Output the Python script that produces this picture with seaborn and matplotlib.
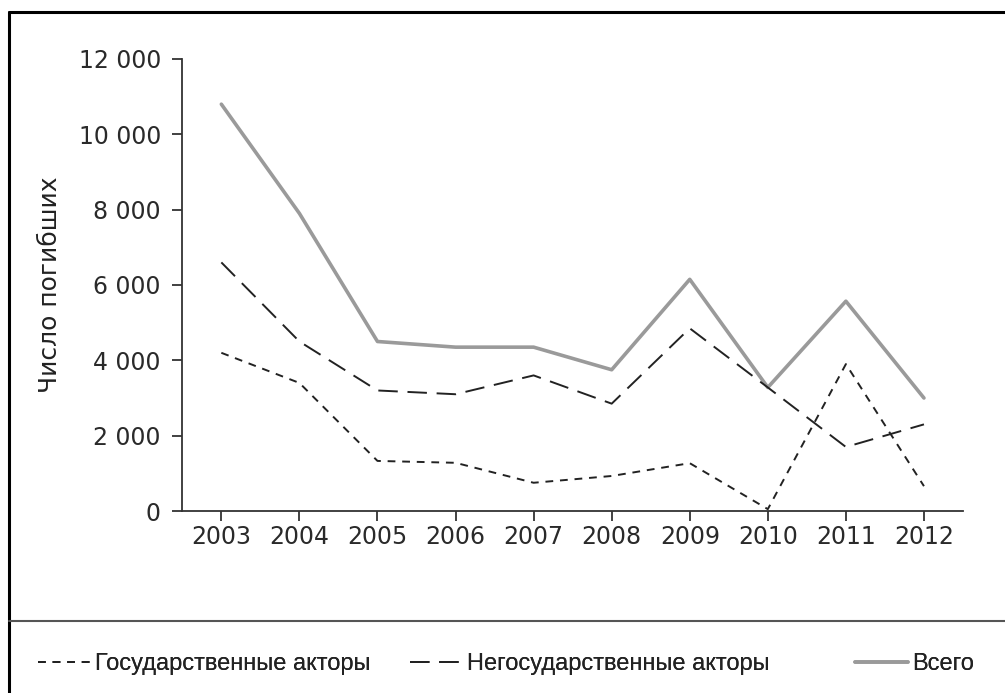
import matplotlib
matplotlib.use("Agg")
import matplotlib.pyplot as plt
import matplotlib.ticker as mticker
from matplotlib.lines import Line2D
import seaborn as sns
import pandas as pd

years = [2003, 2004, 2005, 2006, 2007, 2008, 2009, 2010, 2011, 2012]
state = [4200, 3400, 1330, 1280, 750, 930, 1270, 50, 3900, 660]
nonstate = [6600, 4500, 3200, 3100, 3600, 2850, 4850, 3280, 1700, 2300]
total = [10800, 7900, 4500, 4350, 4350, 3750, 6150, 3280, 5570, 3000]
labels = ["Государственные акторы", "Негосударственные акторы", "Всего"]
ylabel = "Число погибших"

sns.set_theme(style="white")
plt.rcParams['font.family'] = ['DejaVu Sans']

fig = plt.figure(figsize=(10.05, 6.93), dpi=100)
ax = fig.add_axes([0.1814, 0.2626, 0.9582 - 0.1814, 0.9149 - 0.2626])

df = pd.DataFrame({"year": years, "state": state, "nonstate": nonstate, "total": total})

dark = "#222222"
sns.lineplot(data=df, x="year", y="total", ax=ax, color="#9a9a9a", lw=2.6,
             linestyle="-", label=labels[2])
sns.lineplot(data=df, x="year", y="nonstate", ax=ax, color=dark, lw=1.4,
             linestyle=(0, (10, 5)), label=labels[1])
sns.lineplot(data=df, x="year", y="state", ax=ax, color=dark, lw=1.4,
             linestyle=(0, (4, 3.5)), label=labels[0])
ax.get_legend().remove()

ax.set_xlim(2002.5, 2012.5)
ax.set_ylim(0, 12000)
ax.set_xticks(years)
ax.set_xticklabels([str(y) for y in years])
ax.set_yticks(range(0, 12001, 2000))
ax.yaxis.set_major_formatter(mticker.FuncFormatter(lambda v, p: f"{int(v):,}".replace(",", " ")))
ax.set_xlabel("")
ax.set_ylabel(ylabel, fontsize=18, color="#222222", labelpad=12)

for s in ["top", "right"]:
    ax.spines[s].set_visible(False)
for s in ["left", "bottom"]:
    ax.spines[s].set_color("#333333")
    ax.spines[s].set_linewidth(1.3)
ax.tick_params(axis="both", which="both", direction="out", length=7.4, width=1.3,
               color="#333333", labelsize=17, labelcolor="#2a2a2a",
               left=True, bottom=True)
ax.tick_params(axis="y", pad=8)
ax.tick_params(axis="x", pad=3)

# frame and separator
fig.add_artist(Line2D([9/1005, 9/1005], [0, 1 - 12/693], color="black", lw=2.2))
fig.add_artist(Line2D([9/1005, 1], [1 - 12/693, 1 - 12/693], color="black", lw=2.2))
fig.add_artist(Line2D([9/1005, 1], [1 - 621/693, 1 - 621/693], color="#555555", lw=1.5))

# legend (three separate entries)
handles = {lab: ln for ln, lab in zip(ax.lines, [labels[2], labels[1], labels[0]])}
legfont = {"family": ["Liberation Sans Narrow", "Liberation Sans", "DejaVu Sans"], "size": 17}
positions = [(labels[0], 38/1005), (labels[1], 410/1005), (labels[2], 855/1005)]
for lab, xpos in positions:
    h = handles[lab]
    lg = fig.legend([h], [lab], loc="center left", bbox_to_anchor=(xpos, 1 - 664/693),
                    frameon=False, prop=legfont, handlelength=2.25, handletextpad=0.15,
                    borderpad=0, borderaxespad=0, labelcolor="#222222")
    fig.add_artist(lg)

fig.savefig("out.png", dpi=100, facecolor="white")
